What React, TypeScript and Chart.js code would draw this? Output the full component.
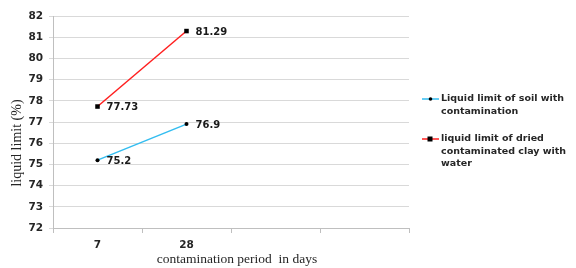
import React, { useEffect, useRef } from "react";
import { Chart, registerables } from "chart.js";

Chart.register(...registerables);

const categories = ["7", "28", "", ""];
const soilWithContamination = [75.2, 76.9, null, null];
const driedClayWithWater = [77.73, 81.29, null, null];
const seriesNames = [
  ["Liquid limit of soil with", "contamination"],
  ["liquid limit of dried", "contaminated clay with", "water"],
];
const yMin = 72;
const yMax = 82;
const yTitle = "liquid limit (%)";
const xTitle = "contamination period  in days";

const BLUE = "#33bdf0";
const RED = "#ff1f1f";
const LABEL_FONT = "bold 10px 'DejaVu Sans'";

const overlay = {
  id: "overlay",
  afterDatasetsDraw(chart: any) {
    const ctx = chart.ctx;
    ctx.save();
    // data labels
    ctx.font = LABEL_FONT;
    ctx.fillStyle = "#1a1a1a";
    ctx.textAlign = "left";
    ctx.textBaseline = "middle";
    chart.data.datasets.forEach((ds: any, di: number) => {
      const meta = chart.getDatasetMeta(di);
      meta.data.forEach((pt: any, i: number) => {
        const v = ds.data[i];
        if (v === null || v === undefined) return;
        ctx.fillText(String(v), pt.x + 9, pt.y + 1);
      });
    });
    // axis titles
    const area = chart.chartArea;
    ctx.fillStyle = "#262626";
    ctx.font = "13.5px 'Liberation Serif'";
    ctx.textAlign = "center";
    ctx.textBaseline = "middle";
    ctx.fillText(xTitle, 237, 259);
    ctx.save();
    ctx.translate(17, 143);
    ctx.rotate(-Math.PI / 2);
    ctx.font = "14px 'Liberation Serif'";
    ctx.fillText(yTitle, 0, 0);
    ctx.restore();
    // legend
    const colors = [BLUE, RED];
    const tops = [99, 139];
    ctx.font = "bold 9.5px 'DejaVu Sans'";
    ctx.textAlign = "left";
    ctx.textBaseline = "middle";
    seriesNames.forEach((lines, i) => {
      const y = tops[i];
      ctx.strokeStyle = colors[i];
      ctx.lineWidth = 1.5;
      ctx.beginPath();
      ctx.moveTo(422, y);
      ctx.lineTo(439, y);
      ctx.stroke();
      ctx.fillStyle = "#000";
      if (i === 0) {
        ctx.beginPath();
        ctx.arc(430.5, y, 1.8, 0, Math.PI * 2);
        ctx.fill();
      } else {
        ctx.fillRect(427.5, y - 2.5, 5, 5);
      }
      ctx.fillStyle = "#262626";
      lines.forEach((t, j) => ctx.fillText(t, 441, y + j * 12.5));
    });
    void area;
    ctx.restore();
  },
};

export default function App() {
  const ref = useRef<HTMLCanvasElement>(null);
  useEffect(() => {
    document.body.style.margin = "0";
    const chart = new Chart(ref.current!, {
      type: "line",
      data: {
        labels: categories,
        datasets: [
          {
            label: seriesNames[0].join(" "),
            data: soilWithContamination,
            borderColor: BLUE,
            backgroundColor: "#000",
            borderWidth: 1.5,
            pointStyle: "circle",
            pointRadius: 2,
            pointBorderWidth: 0,
            pointBackgroundColor: "#000",
            tension: 0,
          },
          {
            label: seriesNames[1].join(" "),
            data: driedClayWithWater,
            borderColor: RED,
            backgroundColor: "#000",
            borderWidth: 1.5,
            pointStyle: "rect",
            pointRadius: 3.2,
            pointBorderWidth: 0,
            pointBackgroundColor: "#000",
            tension: 0,
          },
        ],
      },
      options: {
        animation: false,
        responsive: false,
        layout: { padding: { left: 0, top: 16, right: 167, bottom: 0 } },
        plugins: {
          legend: { display: false },
          tooltip: { enabled: false },
        },
        scales: {
          x: {
            type: "category",
            offset: true,
            grid: {
              offset: true,
              drawOnChartArea: false,
              drawTicks: true,
              tickLength: 5,
              color: "#bfbfbf",
            },
            border: { display: true, color: "#bfbfbf", width: 1 },
            ticks: {
              color: "#262626",
              font: { family: "'DejaVu Sans'", weight: "bold", size: 10.5 },
              padding: 6,
              maxRotation: 0,
              autoSkip: false,
            },
            afterFit(s: any) {
              s.height = 40;
            },
          },
          y: {
            min: yMin,
            max: yMax,
            ticks: {
              stepSize: 1,
              color: "#262626",
              font: { family: "'DejaVu Sans'", weight: "bold", size: 10.5 },
              padding: 6,
            },
            grid: {
              color: "#d9d9d9",
              lineWidth: 1,
              tickLength: 4,
            },
            border: { display: true, color: "#bfbfbf", width: 1 },
            afterFit(s: any) {
              s.width = 53;
            },
          },
        },
      },
      plugins: [overlay],
    });
    return () => chart.destroy();
  }, []);
  return (
    <div style={{ position: "absolute", left: 0, top: 0, width: 576, height: 268 }}>
      <canvas ref={ref} width={576} height={268} style={{ width: 576, height: 268 }} />
    </div>
  );
}
